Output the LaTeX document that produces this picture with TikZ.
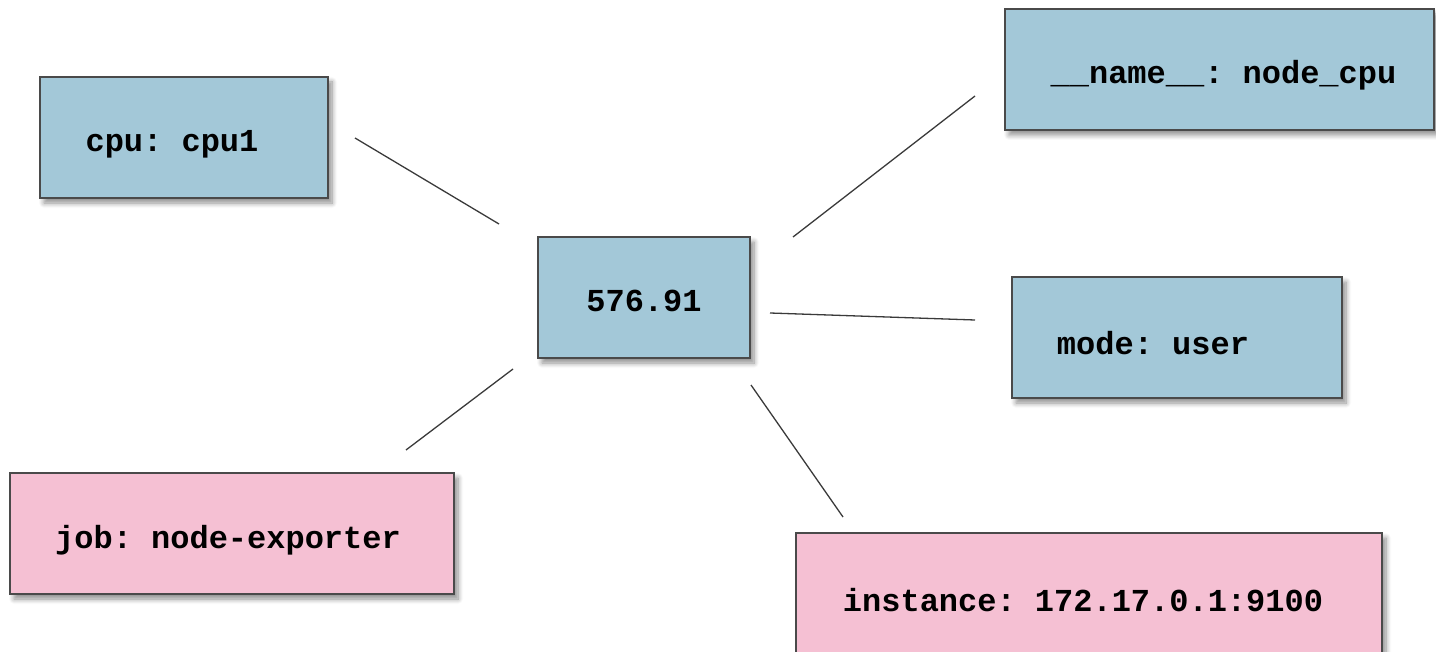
\documentclass[tikz,border=0pt]{standalone}
\usepackage{fontspec}
\setmonofont{Liberation Mono}
\usetikzlibrary{shadows.blur}
\definecolor{boxblue}{HTML}{A3C8D8}
\definecolor{boxpink}{HTML}{F5C0D3}
\definecolor{boxline}{HTML}{4A4A4A}
\definecolor{linkgray}{HTML}{3A3A3A}
\newcommand{\lowered}[2]{\raisebox{-#1}[\height][\depth]{#2}}
\begin{document}
\begin{tikzpicture}[x=1pt,y=-1pt,
  lbl/.style={draw=boxline, line width=1.5pt, rectangle, inner sep=0pt,
    font=\ttfamily\bfseries\fontsize{32}{36}\selectfont,
    blur shadow={shadow xshift=4pt, shadow yshift=-5pt, shadow blur steps=8, shadow opacity=45, shadow blur radius=5pt}},
  bluebox/.style={lbl, fill=boxblue},
  pinkbox/.style={lbl, fill=boxpink},
  link/.style={draw=linkgray, line width=1.3pt}]
\useasboundingbox (0,0) rectangle (1436,652);
\node[bluebox, minimum width=288pt, minimum height=121pt] (cpu) at (184,137.5) {\lowered{7pt}{cpu: cpu1}\hspace*{24pt}};
\node[bluebox, minimum width=212pt, minimum height=121pt] (val) at (644,297.5) {\lowered{3pt}{576.91}};
\node[bluebox, minimum width=429pt, minimum height=121pt] (name) at (1219.5,69.5) {\hspace*{8pt}\lowered{6pt}{\_\_name\_\_: node\_cpu}};
\node[bluebox, minimum width=330pt, minimum height=121pt] (mode) at (1177,337.5) {\lowered{6pt}{mode: user}\hspace*{48pt}};
\node[pinkbox, minimum width=444pt, minimum height=121pt] (job) at (232,533.5) {\lowered{7pt}{job: node-exporter}\hspace*{8pt}};
\node[pinkbox, minimum width=586pt, minimum height=130pt] (inst) at (1089,598) {\lowered{2pt}{instance: 172.17.0.1:9100}\hspace*{12pt}};
\coordinate (c1a) at (355,138);
\coordinate (c1b) at (499,224);
\coordinate (c2a) at (793,237);
\coordinate (c2b) at (975,96);
\coordinate (c3a) at (770,313);
\coordinate (c3b) at (975,320);
\coordinate (c4a) at (513,369);
\coordinate (c4b) at (406,450);
\coordinate (c5a) at (751,385);
\coordinate (c5b) at (843,517);
\draw[link] (c1a) -- (c1b);
\draw[link] (c2a) -- (c2b);
\draw[link] (c3a) -- (c3b);
\draw[link] (c4a) -- (c4b);
\draw[link] (c5a) -- (c5b);
\end{tikzpicture}
\end{document}
